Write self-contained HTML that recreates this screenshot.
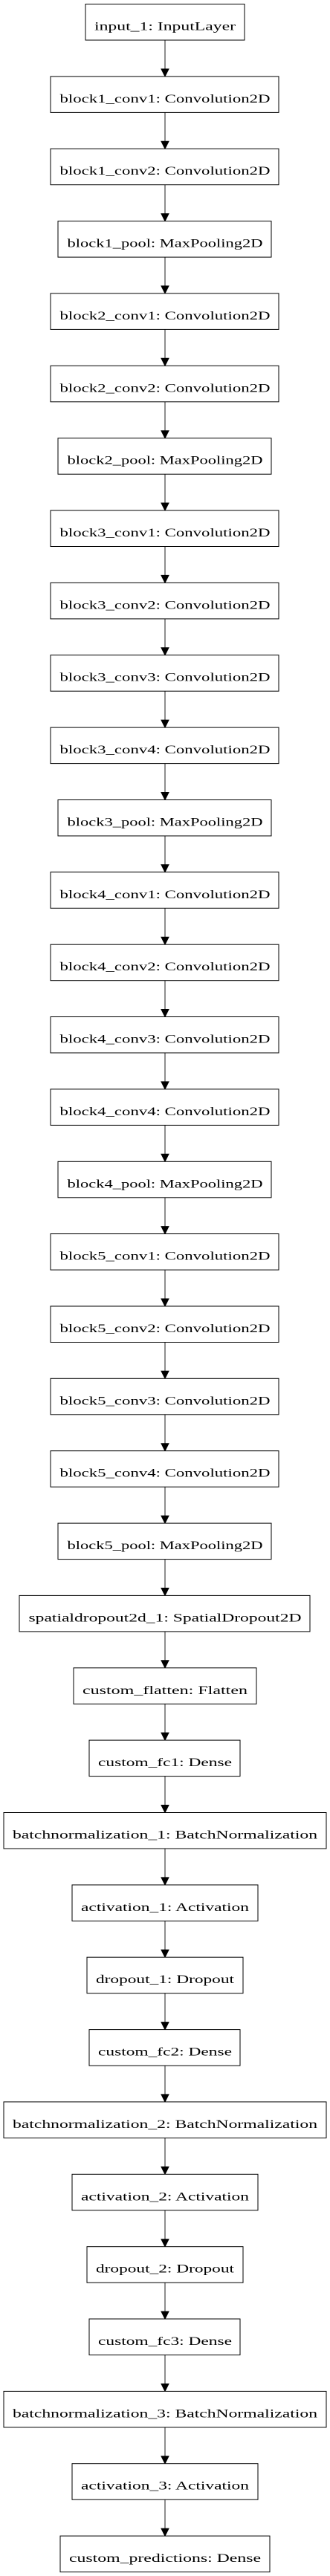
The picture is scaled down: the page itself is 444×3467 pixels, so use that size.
<!DOCTYPE html>
<html><head><meta charset="utf-8"><style>
html,body{margin:0;padding:0;background:#fff;}
svg{display:block;}
text{font-family:"Liberation Serif",serif;font-size:16px;fill:#000;}
rect{fill:#fff;stroke:#000;stroke-width:1;}
line{stroke:#444;stroke-width:1.2;}
polygon{fill:#000;stroke:#000;stroke-width:1;}
</style></head><body>
<svg width="444" height="3467" viewBox="0 0 444 3467" xmlns="http://www.w3.org/2000/svg">
<rect x="0" y="0" width="444" height="3467" style="fill:#fff;stroke:none"/>
<!-- arrows -->
<g>
<line x1="222" y1="54" x2="222" y2="92.9"/><polygon points="217,92.9 227,92.9 222,102.9"/>
<line x1="222" y1="151.4" x2="222" y2="190.2"/><polygon points="217,190.2 227,190.2 222,200.2"/>
<line x1="222" y1="248.7" x2="222" y2="287.6"/><polygon points="217,287.6 227,287.6 222,297.6"/>
<line x1="222" y1="346.1" x2="222" y2="384.9"/><polygon points="217,384.9 227,384.9 222,394.9"/>
<line x1="222" y1="443.4" x2="222" y2="482.3"/><polygon points="217,482.3 227,482.3 222,492.3"/>
<line x1="222" y1="540.8" x2="222" y2="579.7"/><polygon points="217,579.7 227,579.7 222,589.7"/>
<line x1="222" y1="638.2" x2="222" y2="677.0"/><polygon points="217,677.0 227,677.0 222,687.0"/>
<line x1="222" y1="735.5" x2="222" y2="774.4"/><polygon points="217,774.4 227,774.4 222,784.4"/>
<line x1="222" y1="832.9" x2="222" y2="871.7"/><polygon points="217,871.7 227,871.7 222,881.7"/>
<line x1="222" y1="930.2" x2="222" y2="969.1"/><polygon points="217,969.1 227,969.1 222,979.1"/>
<line x1="222" y1="1027.6" x2="222" y2="1066.5"/><polygon points="217,1066.5 227,1066.5 222,1076.5"/>
<line x1="222" y1="1125.0" x2="222" y2="1163.8"/><polygon points="217,1163.8 227,1163.8 222,1173.8"/>
<line x1="222" y1="1222.3" x2="222" y2="1261.2"/><polygon points="217,1261.2 227,1261.2 222,1271.2"/>
<line x1="222" y1="1319.7" x2="222" y2="1358.5"/><polygon points="217,1358.5 227,1358.5 222,1368.5"/>
<line x1="222" y1="1417.0" x2="222" y2="1455.9"/><polygon points="217,1455.9 227,1455.9 222,1465.9"/>
<line x1="222" y1="1514.4" x2="222" y2="1553.3"/><polygon points="217,1553.3 227,1553.3 222,1563.3"/>
<line x1="222" y1="1611.8" x2="222" y2="1650.6"/><polygon points="217,1650.6 227,1650.6 222,1660.6"/>
<line x1="222" y1="1709.1" x2="222" y2="1748.0"/><polygon points="217,1748.0 227,1748.0 222,1758.0"/>
<line x1="222" y1="1806.5" x2="222" y2="1845.3"/><polygon points="217,1845.3 227,1845.3 222,1855.3"/>
<line x1="222" y1="1903.8" x2="222" y2="1942.7"/><polygon points="217,1942.7 227,1942.7 222,1952.7"/>
<line x1="222" y1="2001.2" x2="222" y2="2040.1"/><polygon points="217,2040.1 227,2040.1 222,2050.1"/>
<line x1="222" y1="2098.6" x2="222" y2="2137.4"/><polygon points="217,2137.4 227,2137.4 222,2147.4"/>
<line x1="222" y1="2195.9" x2="222" y2="2234.8"/><polygon points="217,2234.8 227,2234.8 222,2244.8"/>
<line x1="222" y1="2293.3" x2="222" y2="2332.1"/><polygon points="217,2332.1 227,2332.1 222,2342.1"/>
<line x1="222" y1="2390.6" x2="222" y2="2429.5"/><polygon points="217,2429.5 227,2429.5 222,2439.5"/>
<line x1="222" y1="2488.0" x2="222" y2="2526.9"/><polygon points="217,2526.9 227,2526.9 222,2536.9"/>
<line x1="222" y1="2585.4" x2="222" y2="2624.2"/><polygon points="217,2624.2 227,2624.2 222,2634.2"/>
<line x1="222" y1="2682.7" x2="222" y2="2721.6"/><polygon points="217,2721.6 227,2721.6 222,2731.6"/>
<line x1="222" y1="2780.1" x2="222" y2="2818.9"/><polygon points="217,2818.9 227,2818.9 222,2828.9"/>
<line x1="222" y1="2877.4" x2="222" y2="2916.3"/><polygon points="217,2916.3 227,2916.3 222,2926.3"/>
<line x1="222" y1="2974.8" x2="222" y2="3013.7"/><polygon points="217,3013.7 227,3013.7 222,3023.7"/>
<line x1="222" y1="3072.2" x2="222" y2="3111.0"/><polygon points="217,3111.0 227,3111.0 222,3121.0"/>
<line x1="222" y1="3169.5" x2="222" y2="3208.4"/><polygon points="217,3208.4 227,3208.4 222,3218.4"/>
<line x1="222" y1="3266.9" x2="222" y2="3305.7"/><polygon points="217,3305.7 227,3305.7 222,3315.7"/>
<line x1="222" y1="3364.2" x2="222" y2="3403.1"/><polygon points="217,3403.1 227,3403.1 222,3413.1"/>
</g>
<!-- nodes -->
<g text-anchor="middle">
<rect x="115" y="5.5" width="214" height="48.5"/><text x="222" y="40.5" textLength="190" lengthAdjust="spacingAndGlyphs">input_1: InputLayer</text>
<rect x="68" y="102.9" width="307" height="48.5"/><text x="222" y="137.9" textLength="283" lengthAdjust="spacingAndGlyphs">block1_conv1: Convolution2D</text>
<rect x="68" y="200.2" width="307" height="48.5"/><text x="222" y="235.2" textLength="283" lengthAdjust="spacingAndGlyphs">block1_conv2: Convolution2D</text>
<rect x="78" y="297.6" width="287" height="48.5"/><text x="222" y="332.6" textLength="263" lengthAdjust="spacingAndGlyphs">block1_pool: MaxPooling2D</text>
<rect x="68" y="394.9" width="307" height="48.5"/><text x="222" y="429.9" textLength="283" lengthAdjust="spacingAndGlyphs">block2_conv1: Convolution2D</text>
<rect x="68" y="492.3" width="307" height="48.5"/><text x="222" y="527.3" textLength="283" lengthAdjust="spacingAndGlyphs">block2_conv2: Convolution2D</text>
<rect x="78" y="589.7" width="287" height="48.5"/><text x="222" y="624.7" textLength="263" lengthAdjust="spacingAndGlyphs">block2_pool: MaxPooling2D</text>
<rect x="68" y="687.0" width="307" height="48.5"/><text x="222" y="722.0" textLength="283" lengthAdjust="spacingAndGlyphs">block3_conv1: Convolution2D</text>
<rect x="68" y="784.4" width="307" height="48.5"/><text x="222" y="819.4" textLength="283" lengthAdjust="spacingAndGlyphs">block3_conv2: Convolution2D</text>
<rect x="68" y="881.7" width="307" height="48.5"/><text x="222" y="916.7" textLength="283" lengthAdjust="spacingAndGlyphs">block3_conv3: Convolution2D</text>
<rect x="68" y="979.1" width="307" height="48.5"/><text x="222" y="1014.1" textLength="283" lengthAdjust="spacingAndGlyphs">block3_conv4: Convolution2D</text>
<rect x="78" y="1076.5" width="287" height="48.5"/><text x="222" y="1111.5" textLength="263" lengthAdjust="spacingAndGlyphs">block3_pool: MaxPooling2D</text>
<rect x="68" y="1173.8" width="307" height="48.5"/><text x="222" y="1208.8" textLength="283" lengthAdjust="spacingAndGlyphs">block4_conv1: Convolution2D</text>
<rect x="68" y="1271.2" width="307" height="48.5"/><text x="222" y="1306.2" textLength="283" lengthAdjust="spacingAndGlyphs">block4_conv2: Convolution2D</text>
<rect x="68" y="1368.5" width="307" height="48.5"/><text x="222" y="1403.5" textLength="283" lengthAdjust="spacingAndGlyphs">block4_conv3: Convolution2D</text>
<rect x="68" y="1465.9" width="307" height="48.5"/><text x="222" y="1500.9" textLength="283" lengthAdjust="spacingAndGlyphs">block4_conv4: Convolution2D</text>
<rect x="78" y="1563.3" width="287" height="48.5"/><text x="222" y="1598.3" textLength="263" lengthAdjust="spacingAndGlyphs">block4_pool: MaxPooling2D</text>
<rect x="68" y="1660.6" width="307" height="48.5"/><text x="222" y="1695.6" textLength="283" lengthAdjust="spacingAndGlyphs">block5_conv1: Convolution2D</text>
<rect x="68" y="1758.0" width="307" height="48.5"/><text x="222" y="1793.0" textLength="283" lengthAdjust="spacingAndGlyphs">block5_conv2: Convolution2D</text>
<rect x="68" y="1855.3" width="307" height="48.5"/><text x="222" y="1890.3" textLength="283" lengthAdjust="spacingAndGlyphs">block5_conv3: Convolution2D</text>
<rect x="68" y="1952.7" width="307" height="48.5"/><text x="222" y="1987.7" textLength="283" lengthAdjust="spacingAndGlyphs">block5_conv4: Convolution2D</text>
<rect x="78" y="2050.1" width="287" height="48.5"/><text x="222" y="2085.1" textLength="263" lengthAdjust="spacingAndGlyphs">block5_pool: MaxPooling2D</text>
<rect x="26" y="2147.4" width="391" height="48.5"/><text x="222" y="2182.4" textLength="367" lengthAdjust="spacingAndGlyphs">spatialdropout2d_1: SpatialDropout2D</text>
<rect x="99" y="2244.8" width="246" height="48.5"/><text x="222" y="2279.8" textLength="222" lengthAdjust="spacingAndGlyphs">custom_flatten: Flatten</text>
<rect x="120" y="2342.1" width="203" height="48.5"/><text x="222" y="2377.1" textLength="180" lengthAdjust="spacingAndGlyphs">custom_fc1: Dense</text>
<rect x="5" y="2439.5" width="434" height="48.5"/><text x="222" y="2474.5" textLength="410" lengthAdjust="spacingAndGlyphs">batchnormalization_1: BatchNormalization</text>
<rect x="97" y="2536.9" width="250" height="48.5"/><text x="222" y="2571.9" textLength="226" lengthAdjust="spacingAndGlyphs">activation_1: Activation</text>
<rect x="117" y="2634.2" width="210" height="48.5"/><text x="222" y="2669.2" textLength="186" lengthAdjust="spacingAndGlyphs">dropout_1: Dropout</text>
<rect x="120" y="2731.6" width="203" height="48.5"/><text x="222" y="2766.6" textLength="180" lengthAdjust="spacingAndGlyphs">custom_fc2: Dense</text>
<rect x="5" y="2828.9" width="434" height="48.5"/><text x="222" y="2863.9" textLength="410" lengthAdjust="spacingAndGlyphs">batchnormalization_2: BatchNormalization</text>
<rect x="97" y="2926.3" width="250" height="48.5"/><text x="222" y="2961.3" textLength="226" lengthAdjust="spacingAndGlyphs">activation_2: Activation</text>
<rect x="117" y="3023.7" width="210" height="48.5"/><text x="222" y="3058.7" textLength="186" lengthAdjust="spacingAndGlyphs">dropout_2: Dropout</text>
<rect x="120" y="3121.0" width="203" height="48.5"/><text x="222" y="3156.0" textLength="180" lengthAdjust="spacingAndGlyphs">custom_fc3: Dense</text>
<rect x="5" y="3218.4" width="434" height="48.5"/><text x="222" y="3253.4" textLength="410" lengthAdjust="spacingAndGlyphs">batchnormalization_3: BatchNormalization</text>
<rect x="97" y="3315.7" width="250" height="48.5"/><text x="222" y="3350.7" textLength="226" lengthAdjust="spacingAndGlyphs">activation_3: Activation</text>
<rect x="81" y="3413.1" width="282" height="48.5"/><text x="222" y="3448.1" textLength="258" lengthAdjust="spacingAndGlyphs">custom_predictions: Dense</text>
</g>
</svg>
</body></html>
